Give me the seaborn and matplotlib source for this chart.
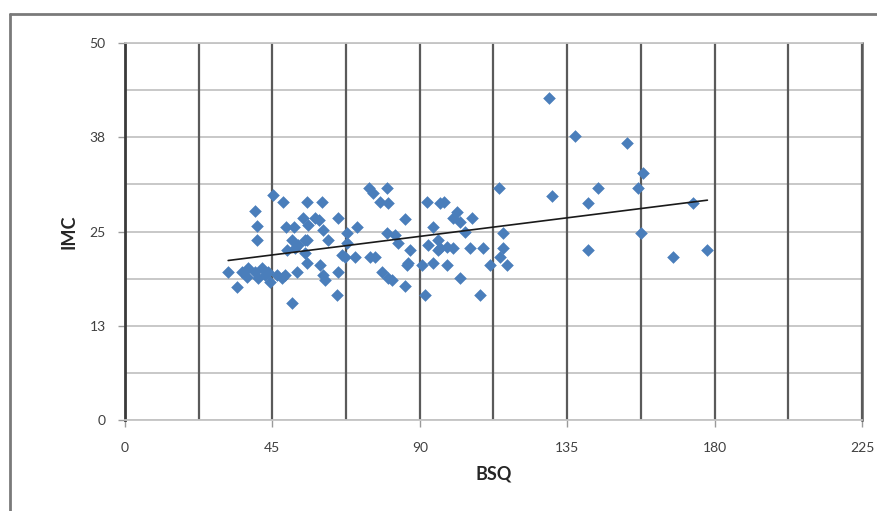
import numpy as np
import pandas as pd
import matplotlib
matplotlib.use("Agg")
import matplotlib.pyplot as plt
from matplotlib.lines import Line2D
from matplotlib.ticker import FixedLocator
import seaborn as sns

# ---- data ----
bsq = [31.5, 34.2, 35.7, 37.6, 39.7, 41.8, 37.3, 40.6, 42.8, 44.3, 43.7, 46.4, 48.0, 48.9, 52.5, 51.0,
       45.2, 48.3, 39.7, 40.3, 40.3, 49.2, 51.6, 54.4, 55.6, 60.2, 58.0, 59.3, 60.5, 62.0, 55.6, 55.9,
       65.1, 70.9, 67.8, 67.8, 49.5, 52.8, 55.0, 51.9, 55.0, 51.0, 55.6, 59.6, 60.5, 61.1, 64.8, 65.1,
       66.3, 67.2, 70.3, 74.8, 76.4, 78.5, 80.3, 81.6, 85.5, 86.1, 90.7, 91.6, 94.1, 98.3, 102.3, 108.4,
       111.5, 116.7, 114.5, 74.5, 75.7, 80.0, 77.9, 80.3, 80.0, 82.5, 85.5, 92.2, 94.1, 96.2, 97.4,
       101.4, 100.2, 102.3, 106.0, 103.8, 114.2, 115.5, 115.5, 96.2, 100.2, 105.4, 109.3, 83.4, 87.0,
       92.5, 95.6, 95.6, 98.3, 86.4,
       129.5, 137.4, 153.3, 158.2, 156.7, 144.5, 130.4, 141.4, 173.5, 157.6, 141.4, 167.4, 177.8]
imc = [19.6, 17.6, 19.6, 20.2, 19.6, 20.2, 19.0, 18.8, 19.2, 18.3, 19.6, 19.2, 18.8, 19.2, 19.6, 15.5,
       29.8, 28.9, 27.7, 25.7, 23.9, 25.6, 25.6, 26.8, 28.9, 28.9, 26.8, 26.5, 25.2, 23.9, 23.9, 25.9,
       26.8, 25.6, 24.8, 23.5, 22.5, 23.2, 23.9, 22.8, 22.1, 23.9, 20.8, 20.6, 19.2, 18.6, 16.6, 19.6,
       21.9, 21.6, 21.6, 21.6, 21.6, 19.6, 18.8, 18.6, 17.8, 20.6, 20.6, 16.6, 20.8, 20.6, 18.8, 16.6,
       20.6, 20.6, 21.6, 30.8, 30.1, 30.8, 28.9, 28.8, 24.8, 24.5, 26.7, 28.9, 25.6, 28.8, 28.9,
       27.6, 26.8, 26.3, 26.8, 24.9, 30.8, 24.8, 22.8, 22.8, 22.8, 22.8, 22.8, 23.5, 22.5,
       23.2, 23.9, 22.5, 22.9, 20.8,
       42.7, 37.7, 36.7, 32.8, 30.8, 30.8, 29.7, 28.8, 28.8, 24.8, 22.5, 21.6, 22.5]

x_ticks = [0, 45, 90, 135, 180, 225]
y_ticks = [0, 12.5, 25, 37.5, 50]
y_tick_labels = ["0", "13", "25", "38", "50"]
x_label = "BSQ"
y_label = "IMC"

df = pd.DataFrame({"BSQ": bsq, "IMC": imc})

sns.set_theme(style="white")
plt.rcParams["font.family"] = ["Lato", "DejaVu Sans"]

W, H = 878, 511
fig = plt.figure(figsize=(W / 100, H / 100), dpi=100)
ax = fig.add_axes([125 / W, 1 - 420 / H, (862 - 125) / W, (420 - 43) / H])

# outer chart frame (top and left edges only are visible)
top_y = 1 - 14 / H
left_x = 10 / W
fig.add_artist(Line2D([left_x, 1.0], [top_y, top_y], transform=fig.transFigure,
                      color="#7a7a7a", lw=2.0))
fig.add_artist(Line2D([left_x, left_x], [0.0, top_y], transform=fig.transFigure,
                      color="#7a7a7a", lw=2.0))

ax.set_xlim(0, 225)
ax.set_ylim(0, 50)

# grid
for xv in np.arange(0, 225.1, 22.5):
    ax.axvline(xv, color="#5a5a5a", lw=1.6, zorder=1)
for yv in np.arange(0, 50.1, 6.25):
    ax.axhline(yv, color="#c4c4c4", lw=1.3, zorder=0.9)

sns.scatterplot(data=df, x="BSQ", y="IMC", marker="D", s=36, color="#4a7ebb",
                edgecolor="#4a7ebb", linewidth=0.4, ax=ax, zorder=3)
sns.regplot(data=df, x="BSQ", y="IMC", scatter=False, ci=None, truncate=True,
            line_kws={"color": "#1a1a1a", "lw": 1.2, "zorder": 4}, ax=ax)

ax.xaxis.set_major_locator(FixedLocator(x_ticks))
ax.yaxis.set_major_locator(FixedLocator(y_ticks))
ax.set_xticklabels([str(t) for t in x_ticks])
ax.set_yticklabels(y_tick_labels)
ax.tick_params(axis="both", which="major", direction="out", length=5, width=1,
               color="#9a9a9a", labelsize=10, labelcolor="#404040")
ax.tick_params(axis="x", pad=11, bottom=True)
ax.tick_params(axis="y", pad=9, left=True)

for side in ["top", "bottom"]:
    ax.spines[side].set_color("#c4c4c4")
    ax.spines[side].set_linewidth(1.3)
ax.spines["left"].set_color("#3a3a3a")
ax.spines["left"].set_linewidth(2.0)
ax.spines["right"].set_color("#5a5a5a")
ax.spines["right"].set_linewidth(1.8)

ax.set_xlabel(x_label, fontsize=13, fontweight="bold", color="#262626")
ax.set_ylabel(y_label, fontsize=13, fontweight="bold", color="#262626")
ax.xaxis.set_label_coords(0.50, -0.122)
ax.yaxis.set_label_coords(-0.064, 0.5)

fig.savefig("out.png", dpi=100)
